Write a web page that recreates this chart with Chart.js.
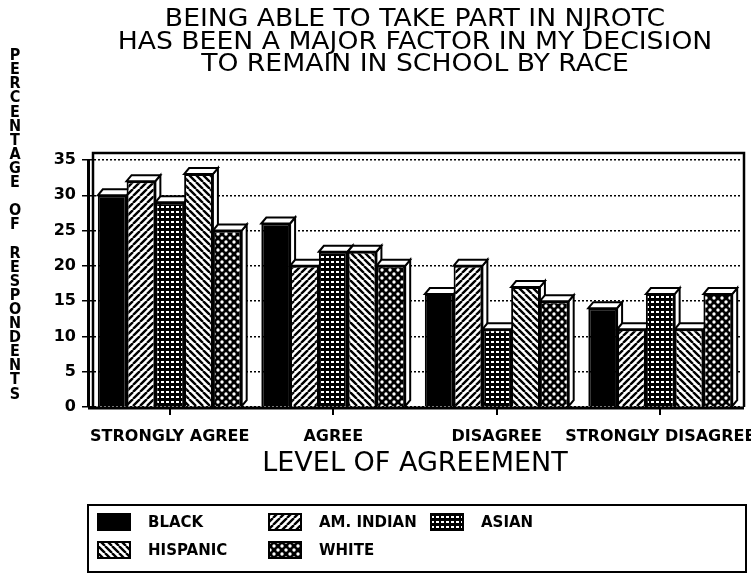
<!DOCTYPE html>
<html>
<head>
<meta charset="utf-8">
<script src="https://cdn.jsdelivr.net/npm/chart.js@4"></script>
<style>
  html, body { margin: 0; padding: 0; background: #fff; }
  #wrap { position: relative; width: 751px; height: 578px; }
</style>
</head>
<body>
<div id="wrap"><canvas id="chart" width="751" height="578"></canvas></div>
<script>
// --- Data ---
const categories = ['STRONGLY AGREE', 'AGREE', 'DISAGREE', 'STRONGLY DISAGREE'];
const seriesNames = ['BLACK', 'AM. INDIAN', 'ASIAN', 'HISPANIC', 'WHITE'];
const black = [30, 26, 16, 14];
const amIndian = [32, 20, 20, 11];
const asian = [29, 22, 11, 16];
const hispanic = [33, 22, 17, 11];
const white = [25, 20, 15, 16];
const yTicks = [0, 5, 10, 15, 20, 25, 30, 35];
const titleLines = [
    'BEING ABLE TO TAKE PART IN NJROTC',
    'HAS BEEN A MAJOR FACTOR IN MY DECISION',
    'TO REMAIN IN SCHOOL BY RACE'
];
const yTitle = 'PERCENTAGE OF RESPONDENTS';
const xTitle = 'LEVEL OF AGREEMENT';

// --- Fill patterns ---
function makeCanvas(size) {
    const c = document.createElement('canvas');
    c.width = size; c.height = size;
    return c;
}

function hatchPattern(forward) {
    const s = 7;
    const c = makeCanvas(s);
    const g = c.getContext('2d');
    g.fillStyle = '#fff';
    g.fillRect(0, 0, s, s);
    g.strokeStyle = '#000';
    g.lineWidth = 2.4;
    g.beginPath();
    for (let k = -1; k <= 1; k++) {
        if (forward) {
            g.moveTo(k * s, s); g.lineTo(k * s + s, 0);
        } else {
            g.moveTo(k * s, 0); g.lineTo(k * s + s, s);
        }
    }
    g.stroke();
    return g.createPattern(c, 'repeat');
}

function gridPattern() {
    const s = 5;
    const c = makeCanvas(s);
    const g = c.getContext('2d');
    g.fillStyle = '#000';
    g.fillRect(0, 0, s, s);
    g.fillStyle = '#fff';
    g.fillRect(1, 1, 3, 2);
    return g.createPattern(c, 'repeat');
}

function dotPattern() {
    const s = 8;
    const c = makeCanvas(s);
    const g = c.getContext('2d');
    g.fillStyle = '#000';
    g.fillRect(0, 0, s, s);
    g.fillStyle = '#fff';
    g.beginPath();
    g.arc(2, 2, 1.7, 0, Math.PI * 2);
    g.arc(6, 6, 1.7, 0, Math.PI * 2);
    g.fill();
    return g.createPattern(c, 'repeat');
}

const fills = ['#000', hatchPattern(true), gridPattern(), hatchPattern(false), dotPattern()];
const seriesValues = [black, amIndian, asian, hispanic, white];

// --- Plugins ---
const depthX = 5, depthY = 6;

const depthPlugin = {
    id: 'depth',
    beforeDatasetsDraw(chart) {
        const ctx = chart.ctx;
        ctx.save();
        ctx.lineWidth = 2;
        ctx.strokeStyle = '#000';
        ctx.fillStyle = '#fff';
        chart.data.datasets.forEach((ds, i) => {
            chart.getDatasetMeta(i).data.forEach(bar => {
                const p = bar.getProps(['x', 'y', 'base', 'width'], true);
                const l = p.x - p.width / 2, r = p.x + p.width / 2;
                // side face
                ctx.beginPath();
                ctx.moveTo(r, p.y);
                ctx.lineTo(r + depthX, p.y - depthY);
                ctx.lineTo(r + depthX, p.base - depthY);
                ctx.lineTo(r, p.base);
                ctx.closePath();
                ctx.fill(); ctx.stroke();
                // top face
                ctx.beginPath();
                ctx.moveTo(l, p.y);
                ctx.lineTo(l + depthX, p.y - depthY);
                ctx.lineTo(r + depthX, p.y - depthY);
                ctx.lineTo(r, p.y);
                ctx.closePath();
                ctx.fill(); ctx.stroke();
            });
        });
        ctx.restore();
    }
};

const framePlugin = {
    id: 'frame',
    beforeDraw(chart) {
        const { ctx, chartArea: a } = chart;
        ctx.save();
        ctx.strokeStyle = '#000';
        ctx.lineWidth = 2.5;
        ctx.beginPath();
        ctx.moveTo(a.left + 5, a.bottom);
        ctx.lineTo(a.left + 5, a.top - 7);
        ctx.lineTo(a.right + 2, a.top - 7);
        ctx.lineTo(a.right + 2, a.bottom);
        ctx.stroke();
        ctx.restore();
    },
    afterDraw(chart) {
        const { ctx, chartArea: a } = chart;
        ctx.save();
        ctx.strokeStyle = '#000';
        ctx.lineWidth = 3;
        ctx.beginPath();
        ctx.moveTo(a.left, a.bottom + 1);
        ctx.lineTo(a.right + 2, a.bottom + 1);
        ctx.stroke();

        // title, widened like the original lettering
        ctx.fillStyle = '#000';
        ctx.font = '24px "DejaVu Sans"';
        ctx.textAlign = 'center';
        ctx.textBaseline = 'middle';
        const cx = (a.left + a.right) / 2;
        titleLines.forEach((line, k) => {
            ctx.save();
            ctx.translate(cx, 20 + k * 22.5);
            ctx.scale(1.11, 1);
            ctx.fillText(line, 0, 0);
            ctx.restore();
        });

        // stacked y-axis title
        ctx.font = 'bold 16px "DejaVu Sans Condensed", "DejaVu Sans"';
        const top = 56, step = 14.1;
        [...yTitle].forEach((ch, k) => {
            ctx.fillText(ch, 15, top + k * step);
        });

        // legend
        const bx = a.left, by = 505, bw = a.right - a.left + 4, bh = 67;
        ctx.lineWidth = 2;
        ctx.strokeRect(bx, by, bw, bh);
        const cols = [bx + 10, bx + 181, bx + 343];
        const rows = [by + 17, by + 45];
        ctx.font = 'bold 15px "DejaVu Sans"';
        ctx.textAlign = 'left';
        chart.data.datasets.forEach((ds, i) => {
            const x = cols[i % 3], y = rows[Math.floor(i / 3)];
            ctx.fillStyle = ds.backgroundColor;
            ctx.fillRect(x, y - 8, 32, 16);
            ctx.strokeRect(x, y - 8, 32, 16);
            ctx.fillStyle = '#000';
            ctx.fillText(ds.label, x + 50, y + 1);
        });
        ctx.restore();
    }
};

// --- Chart ---
new Chart(document.getElementById('chart'), {
    type: 'bar',
    data: {
        labels: categories,
        datasets: seriesNames.map((name, i) => ({
            label: name,
            data: seriesValues[i],
            backgroundColor: fills[i],
            borderColor: '#000',
            borderWidth: 2,
            borderSkipped: 'bottom',
            categoryPercentage: 0.88,
            barPercentage: 1.0
        }))
    },
    options: {
        responsive: false,
        animation: false,
        layout: { padding: { top: 160, left: 28, right: 9, bottom: 96 } },
        plugins: {
            legend: { display: false },
            tooltip: { enabled: false },
            title: { display: false }
        },
        scales: {
            x: {
                afterFit(s) { s.height = 75; s.paddingLeft = 0; s.paddingRight = 0; },
                grid: { display: true, offset: false, drawOnChartArea: false, drawTicks: true, tickLength: 8, color: '#000', lineWidth: 2 },
                border: { display: false },
                ticks: {
                    color: '#000',
                    padding: 12,
                    maxRotation: 0,
                    autoSkip: false,
                    font: { family: '"DejaVu Sans"', size: 16, weight: 'bold' }
                },
                title: {
                    display: true,
                    text: xTitle,
                    color: '#000',
                    padding: { top: 0, bottom: 2 },
                    font: { family: '"DejaVu Sans"', size: 27, weight: 'normal' }
                }
            },
            y: {
                min: 0,
                max: 35,
                afterFit(s) { s.width = 60; s.paddingTop = 0; },
                afterBuildTicks(s) { s.ticks = yTicks.map(v => ({ value: v })); },
                grid: { color: '#000', lineWidth: 1.5, tickLength: 6, drawTicks: true },
                border: { display: true, color: '#000', width: 3, dash: [2, 2] },
                ticks: {
                    color: '#000',
                    padding: 6,
                    font: { family: '"DejaVu Sans"', size: 16, weight: 'bold' }
                }
            }
        }
    },
    plugins: [depthPlugin, framePlugin]
});
</script>
</body>
</html>
